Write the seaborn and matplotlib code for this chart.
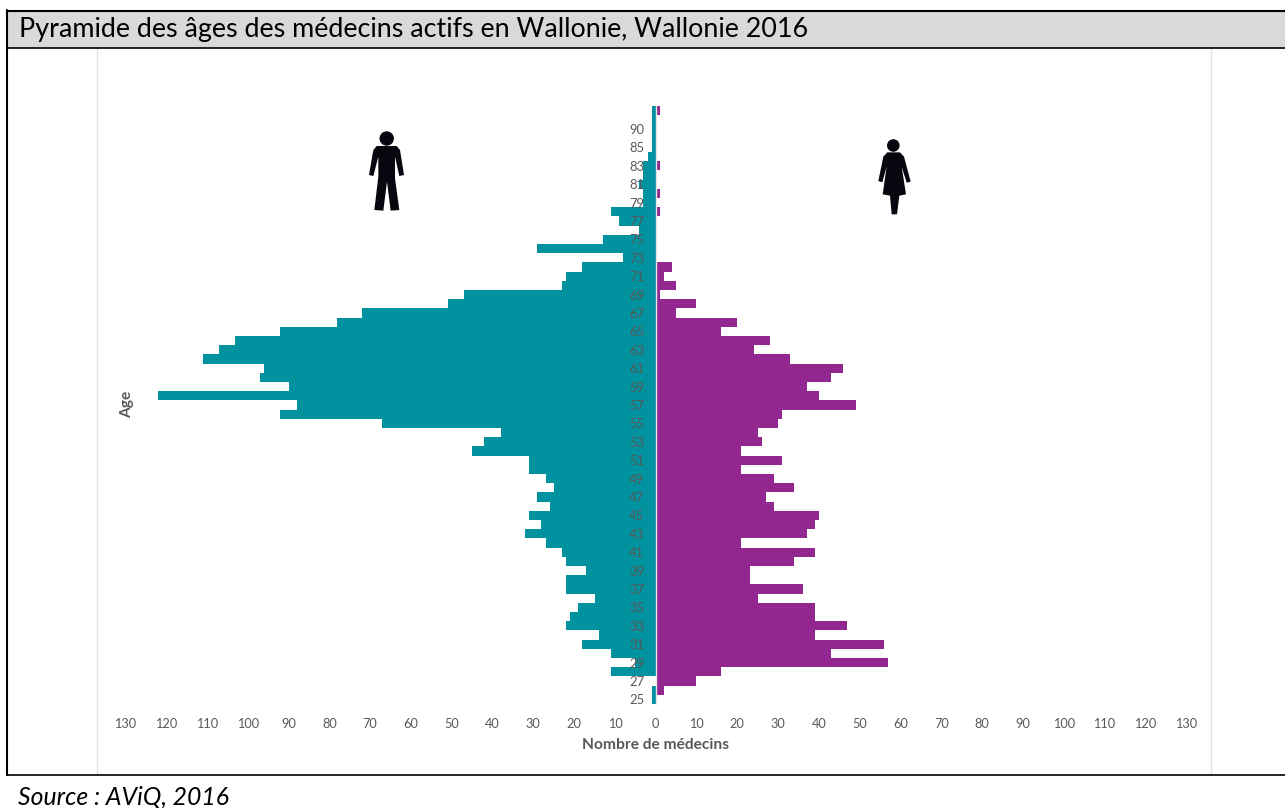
import pandas as pd
import seaborn as sns
import matplotlib.pyplot as plt
from matplotlib.patches import Polygon, Circle, Rectangle
from matplotlib.lines import Line2D

# rows from bottom to top of the pyramid
ages = [str(a) for a in range(25, 86)] + ["88", "90", "91", "92"]

hommes = [1, 1, 0, 11, 5, 11, 18, 14, 22, 21, 19, 15, 22, 22, 17, 22, 23, 27, 32, 28,
          31, 26, 29, 25, 27, 31, 31, 45, 42, 38, 67, 92, 88, 122, 90, 97, 96, 111, 107, 103,
          92, 78, 72, 51, 47, 23, 22, 18, 8, 29, 13, 4, 9, 11, 3, 3, 4, 3, 3, 2,
          1, 1, 1, 1, 1]
femmes = [0, 2, 10, 16, 57, 43, 56, 39, 47, 39, 39, 25, 36, 23, 23, 34, 39, 21, 37, 39,
          40, 29, 27, 34, 29, 21, 31, 21, 26, 25, 30, 31, 49, 40, 37, 43, 46, 33, 24, 28,
          16, 20, 5, 10, 1, 5, 2, 4, 0, 0, 0, 0, 0, 1, 0, 1, 0, 0, 1, 0,
          0, 0, 0, 0, 1]

x_ticks = list(range(-130, 131, 10))
# only these ages carry a label on the axis
y_labels = [str(a) for a in range(25, 86, 2)] + ["90"]

title = "Pyramide des âges des médecins actifs en Wallonie, Wallonie 2016"
source = "Source : AViQ, 2016"

W, H = 1285, 808
TEAL = "#00929F"
PURPLE = "#92278F"
GRIS = "#595959"

sns.set_style("white")
plt.rcParams["font.family"] = ["Lato", "DejaVu Sans"]

df = pd.DataFrame({"age": ages, "hommes": [-v for v in hommes], "femmes": femmes})

fig = plt.figure(figsize=(W / 100, H / 100), dpi=100)

# page frame and pictograms live in a full-figure axes, in pixels
bg = fig.add_axes([0, 0, 1, 1])
bg.set_xlim(0, W)
bg.set_ylim(H, 0)
bg.axis("off")
bg.add_patch(Rectangle((7, 11), W - 7, 37, color="#D9D9D9", lw=0))
bg.add_line(Line2D([97, 97], [48, 775], color="#E3E3E3", lw=1))
bg.add_line(Line2D([1211, 1211], [48, 775], color="#E3E3E3", lw=1))
bg.add_line(Line2D([6.5, W], [11, 11], color="black", lw=1.5))
bg.add_line(Line2D([6.5, W], [48, 48], color="black", lw=1.2))
bg.add_line(Line2D([6.5, W], [775, 775], color="black", lw=1.2))
bg.add_line(Line2D([6.5, 6.5], [10, 775], color="black", lw=1.5))
bg.text(19, 30, title, fontsize=19.4, color="black", va="center", ha="left")
bg.text(18, 797, source, fontsize=17.8, style="italic", color="black", va="center", ha="left")

man = [(110, 78), (170, 78), (180, 90), (192, 165), (178, 168), (165, 110), (165, 175), (178, 270),
       (152, 272), (141, 185), (130, 272), (103, 270), (115, 170), (115, 110), (100, 168), (87, 165), (100, 90)]
woman = [(112, 82), (150, 82), (162, 95), (182, 170), (170, 173), (155, 125), (168, 208), (148, 212),
         (141, 268), (125, 268), (120, 212), (98, 208), (110, 125), (97, 172), (85, 168), (100, 95)]
bg.add_patch(Polygon([(340 + x / 3, 120 + y / 3) for x, y in man], color="#07070F", lw=0))
bg.add_patch(Circle((386.7, 138.5), 7.2, color="#07070F", lw=0))
bg.add_patch(Polygon([(850 + x / 3, 125 + y / 3) for x, y in woman], color="#07070F", lw=0))
bg.add_patch(Circle((893.3, 145.5), 6.3, color="#07070F", lw=0))

# 0 at x=655.7, 4.08 px per unit; rows from y=106 to y=704
left = 655.7 - 130 * 4.08
width = 260 * 4.08
ax = fig.add_axes([left / W, 1 - 704 / H, width / W, (704 - 106) / H])
ax.patch.set_alpha(0)

order = ages[::-1]
sns.barplot(data=df, y="age", x="hommes", order=order, orient="y", color=TEAL,
            saturation=1, width=1, errorbar=None, linewidth=0, ax=ax)
sns.barplot(data=df, y="age", x="femmes", order=order, orient="y", color=PURPLE,
            saturation=1, width=1, errorbar=None, linewidth=0, ax=ax)

ax.set_xlim(-130, 130)
ax.set_ylim(len(ages) - 0.5, -0.5)

for side in ["top", "right", "bottom"]:
    ax.spines[side].set_visible(False)
ax.spines["left"].set_position(("data", 0.1))
ax.spines["left"].set_color("#E6E6E6")
ax.spines["left"].set_linewidth(1)

# tick labels sit on top of the bars
ax.set_axisbelow(False)
ax.set_xticks(x_ticks, [str(abs(v)) for v in x_ticks])
ax.set_yticks(range(len(order)), [a if a in y_labels else "" for a in order])
ax.tick_params(axis="x", length=0, pad=10, labelsize=9.2, labelcolor=GRIS)
ax.tick_params(axis="y", length=0, pad=8.5, labelsize=9.4, labelcolor=GRIS)

ax.set_xlabel("")
ax.set_ylabel("")
bg.text(655.5, 745, "Nombre de médecins", fontsize=11.2, fontweight="bold", color=GRIS, ha="center", va="center")
bg.text(127, 404, "Age", fontsize=11.2, fontweight="bold", color=GRIS, rotation=90, ha="center", va="center")

plt.savefig("out.png", dpi=100)
